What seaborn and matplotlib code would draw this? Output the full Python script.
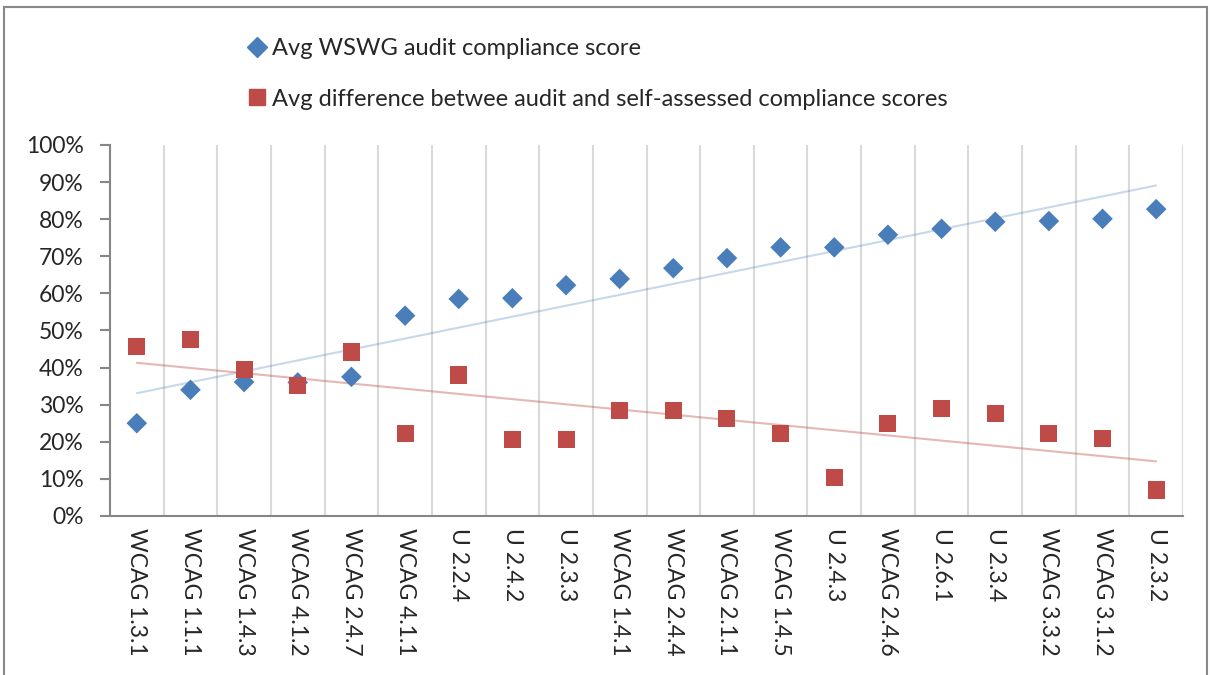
import numpy as np
import pandas as pd
import matplotlib.pyplot as plt
import seaborn as sns
from matplotlib.ticker import PercentFormatter
from matplotlib.lines import Line2D
from matplotlib.patches import Rectangle

# Données
criteria = ["WCAG 1.3.1", "WCAG 1.1.1", "WCAG 1.4.3", "WCAG 4.1.2", "WCAG 2.4.7",
            "WCAG 4.1.1", "U 2.2.4", "U 2.4.2", "U 2.3.3", "WCAG 1.4.1",
            "WCAG 2.4.4", "WCAG 2.1.1", "WCAG 1.4.5", "U 2.4.3", "WCAG 2.4.6",
            "U 2.6.1", "U 2.3.4", "WCAG 3.3.2", "WCAG 3.1.2", "U 2.3.2"]
audit_score = [0.25, 0.34, 0.361, 0.36, 0.375, 0.54, 0.585, 0.587, 0.622, 0.639,
               0.668, 0.695, 0.724, 0.724, 0.758, 0.774, 0.793, 0.795, 0.801, 0.827]
score_diff = [0.456, 0.476, 0.395, 0.351, 0.442, 0.221, 0.38, 0.207, 0.207, 0.283,
              0.283, 0.262, 0.221, 0.104, 0.248, 0.29, 0.276, 0.221, 0.208, 0.07]
legend_labels = ["Avg WSWG audit compliance score",
                 "Avg difference betwee audit and self-assessed compliance scores"]

blue = "#4A7EBB"
red = "#BE4B48"

sns.set_style("white")
plt.rcParams["font.family"] = ["Lato", "DejaVu Sans"]

df = pd.DataFrame({"pos": np.arange(len(criteria)), "audit": audit_score, "diff": score_diff})

fig = plt.figure(figsize=(12.1, 6.75), dpi=100)
ax = fig.add_axes([0.0909, 0.2356, 0.8868, 0.5496])

# courbes de tendance
sns.regplot(x="pos", y="audit", data=df, scatter=False, ci=None, ax=ax,
            line_kws=dict(color=blue, alpha=0.3, lw=1.5))
sns.regplot(x="pos", y="diff", data=df, scatter=False, ci=None, ax=ax,
            line_kws=dict(color=red, alpha=0.4, lw=1.5))

# points
sns.scatterplot(x="pos", y="audit", data=df, marker="D", s=110, color=blue,
                edgecolor="none", ax=ax, zorder=3)
sns.scatterplot(x="pos", y="diff", data=df, marker="s", s=150, color=red,
                edgecolor="none", ax=ax, zorder=3)

ax.set_xlim(-0.5, len(criteria) - 0.5)
ax.set_ylim(0, 1)
ax.set_xlabel("")
ax.set_ylabel("")

ax.set_xticks(df["pos"])
ax.set_xticklabels(criteria, rotation=-90, fontsize=16.5)
ax.set_xticks(df["pos"] + 0.5, minor=True)
ax.set_yticks(np.arange(0, 1.01, 0.1))
ax.yaxis.set_major_formatter(PercentFormatter(1.0, decimals=0))

ax.xaxis.grid(True, which="minor", color="#d9d9d9", lw=1.5)
ax.yaxis.grid(False)
ax.set_axisbelow(True)

for side in ["top", "right"]:
    ax.spines[side].set_visible(False)
for side in ["left", "bottom"]:
    ax.spines[side].set_color("#868686")
    ax.spines[side].set_linewidth(1.5)

ax.tick_params(axis="x", which="major", direction="inout", length=10, width=1.5,
               color="#868686", pad=4)
ax.tick_params(axis="x", which="minor", length=0)
ax.tick_params(axis="y", which="major", direction="out", length=7, width=1.5,
               color="#868686", labelsize=16.5, pad=12, left=True)

# légende
handles = [Line2D([], [], marker="D", color=blue, ls="none", markersize=10.5),
           Line2D([], [], marker="s", color=red, ls="none", markersize=12)]
fig.legend(handles, legend_labels, loc="upper left", bbox_to_anchor=(0.185, 0.975),
           frameon=False, fontsize=17, labelspacing=1.25, handletextpad=0.15,
           handlelength=1.0)

# cadre
fig.patches.append(Rectangle((0.003, -0.1), 0.9945, 1.0896, transform=fig.transFigure,
                             fill=False, edgecolor="#888888", lw=1.5))

fig.savefig("out.png", dpi=100)
